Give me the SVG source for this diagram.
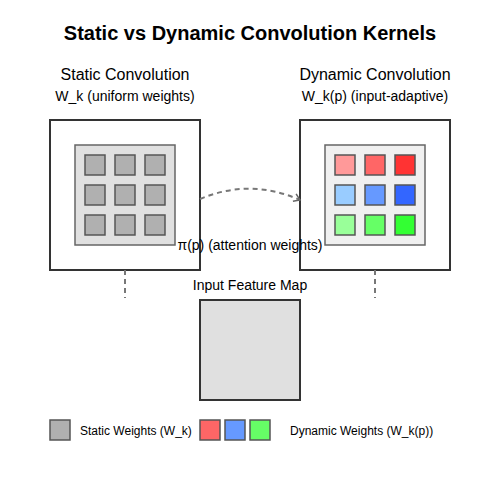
<svg xmlns="http://www.w3.org/2000/svg" width="500" height="500" viewBox="0 0 500 500">
<defs>
<marker id="arr" markerWidth="10" markerHeight="10" refX="8" refY="5" orient="auto" markerUnits="userSpaceOnUse">
<path d="M2,1 L8,5 L2,9" fill="none" stroke="#666" stroke-width="1.5"/>
</marker>
<style>
text{font-family:"Liberation Sans",Arial,sans-serif;fill:#000}
.outer{fill:#fff;stroke:#333;stroke-width:2}
.inner{stroke:#666;stroke-width:1.5}
.cell{stroke:#555;stroke-width:1.5}
.s{fill:#b0b0b0}
.dash{stroke:#777;stroke-width:2;stroke-dasharray:5,4;fill:none}
</style>
</defs>
<rect width="500" height="500" fill="#fff"/>
<text x="250" y="40" text-anchor="middle" font-size="20" font-weight="bold">Static vs Dynamic Convolution Kernels</text>
<g id="static">
<text x="125" y="80" text-anchor="middle" font-size="16">Static Convolution</text>
<text x="125" y="101" text-anchor="middle" font-size="14">W_k (uniform weights)</text>
<rect class="outer" x="50" y="120" width="150" height="150"/>
<rect class="inner" x="75" y="145" width="100" height="100" fill="#e0e0e0"/>
<rect class="cell s" x="85" y="155" width="20" height="20"/>
<rect class="cell s" x="115" y="155" width="20" height="20"/>
<rect class="cell s" x="145" y="155" width="20" height="20"/>
<rect class="cell s" x="85" y="185" width="20" height="20"/>
<rect class="cell s" x="115" y="185" width="20" height="20"/>
<rect class="cell s" x="145" y="185" width="20" height="20"/>
<rect class="cell s" x="85" y="215" width="20" height="20"/>
<rect class="cell s" x="115" y="215" width="20" height="20"/>
<rect class="cell s" x="145" y="215" width="20" height="20"/>
</g>
<g id="dynamic">
<text x="375" y="80" text-anchor="middle" font-size="16">Dynamic Convolution</text>
<text x="375" y="101" text-anchor="middle" font-size="14">W_k(p) (input-adaptive)</text>
<rect class="outer" x="300" y="120" width="150" height="150"/>
<rect class="inner" x="325" y="145" width="100" height="100" fill="#f0f0f0"/>
<rect class="cell" fill="#ff9999" x="335" y="155" width="20" height="20"/>
<rect class="cell" fill="#ff6666" x="365" y="155" width="20" height="20"/>
<rect class="cell" fill="#ff3333" x="395" y="155" width="20" height="20"/>
<rect class="cell" fill="#99ccff" x="335" y="185" width="20" height="20"/>
<rect class="cell" fill="#6699ff" x="365" y="185" width="20" height="20"/>
<rect class="cell" fill="#3366ff" x="395" y="185" width="20" height="20"/>
<rect class="cell" fill="#99ff99" x="335" y="215" width="20" height="20"/>
<rect class="cell" fill="#66ff66" x="365" y="215" width="20" height="20"/>
<rect class="cell" fill="#33ff33" x="395" y="215" width="20" height="20"/>
</g>
<g id="input">
<text x="250" y="290" text-anchor="middle" font-size="14">Input Feature Map</text>
<rect x="200" y="300" width="100" height="100" fill="#e0e0e0" stroke="#333" stroke-width="2"/>
</g>
<g id="connectors">
<path class="dash" d="M200,199 Q250,178 300,200" marker-end="url(#arr)"/>
<line class="dash" x1="125" y1="270" x2="125" y2="298"/>
<line class="dash" x1="375" y1="270" x2="375" y2="298"/>
</g>
<text x="250" y="250" text-anchor="middle" font-size="14">π(p) (attention weights)</text>
<g id="legend">
<rect class="cell s" x="50" y="420" width="20" height="20"/>
<text x="80" y="435" font-size="12">Static Weights (W_k)</text>
<rect class="cell" fill="#ff6666" x="200" y="420" width="20" height="20"/>
<rect class="cell" fill="#6699ff" x="225" y="420" width="20" height="20"/>
<rect class="cell" fill="#66ff66" x="250" y="420" width="20" height="20"/>
<text x="290" y="435" font-size="12">Dynamic Weights (W_k(p))</text>
</g>
</svg>
